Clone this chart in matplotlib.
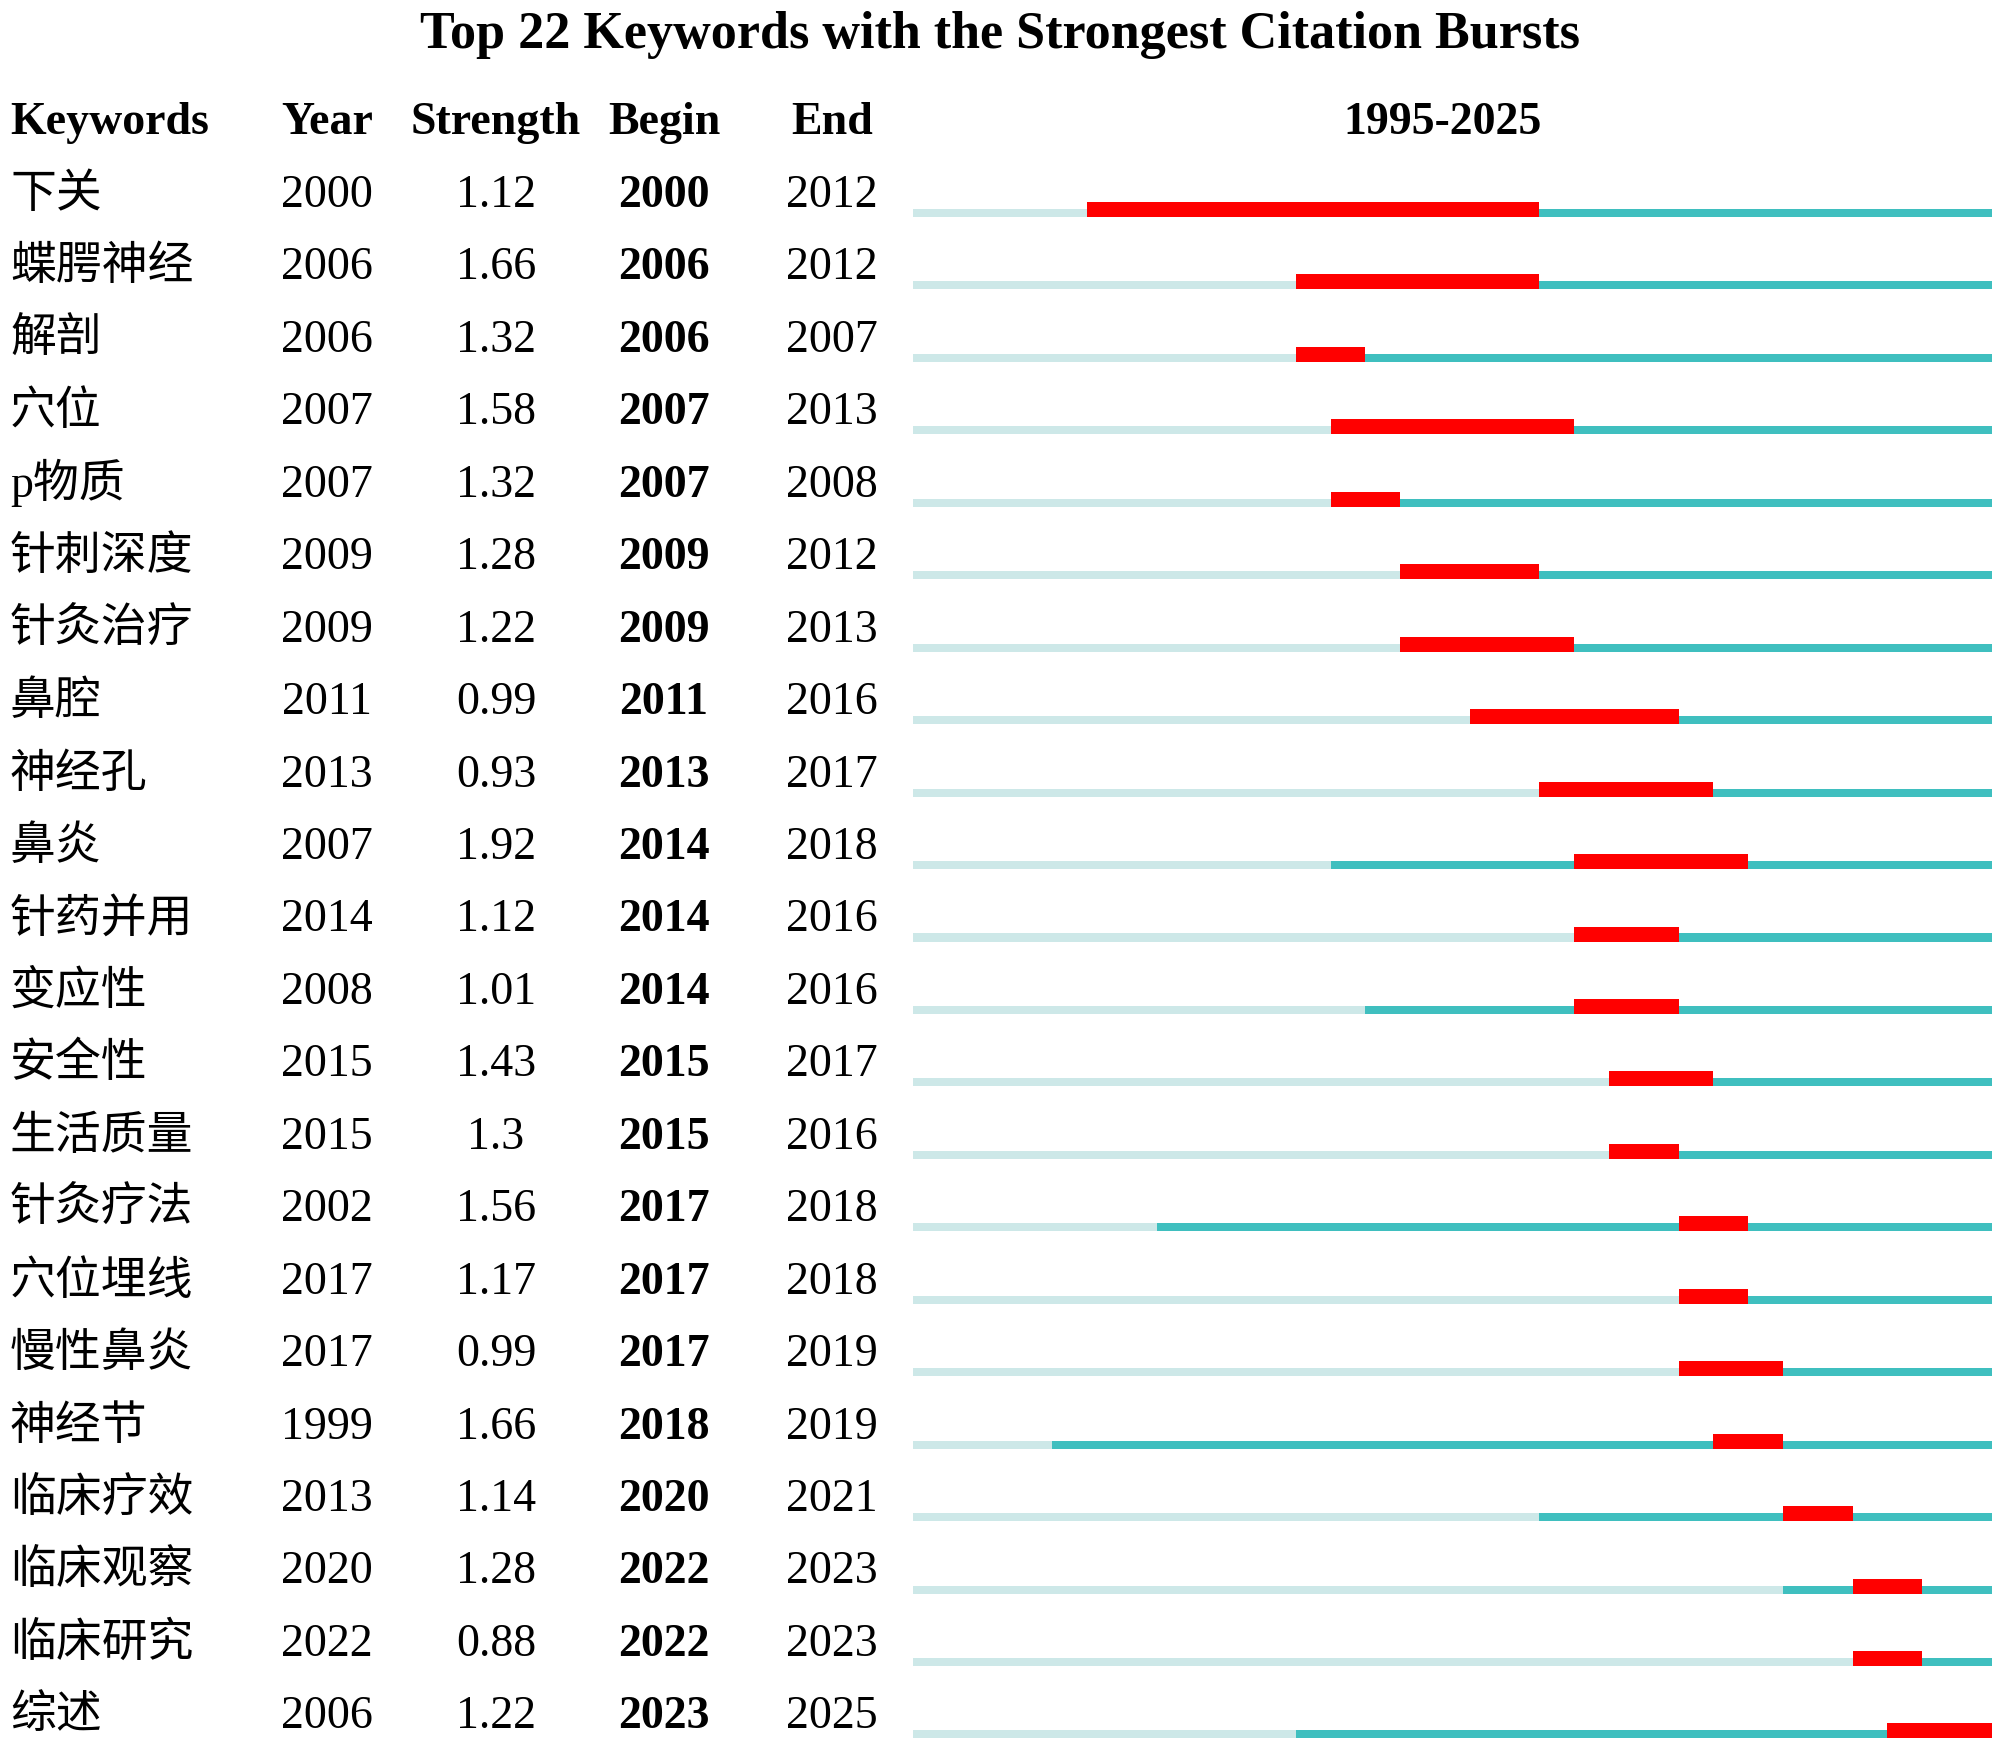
import matplotlib
matplotlib.use('Agg')
import matplotlib.pyplot as plt
import matplotlib.transforms as mtransforms
from matplotlib import rcParams

rcParams['font.family'] = ['Liberation Serif', 'Noto Sans CJK SC']

# data
keywords = ['下关', '蝶腭神经', '解剖', '穴位', 'p物质', '针刺深度', '针灸治疗', '鼻腔',
            '神经孔', '鼻炎', '针药并用', '变应性', '安全性', '生活质量', '针灸疗法',
            '穴位埋线', '慢性鼻炎', '神经节', '临床疗效', '临床观察', '临床研究', '综述']
years = [2000, 2006, 2006, 2007, 2007, 2009, 2009, 2011, 2013, 2007, 2014,
         2008, 2015, 2015, 2002, 2017, 2017, 1999, 2013, 2020, 2022, 2006]
strength = ['1.12', '1.66', '1.32', '1.58', '1.32', '1.28', '1.22', '0.99', '0.93', '1.92', '1.12',
            '1.01', '1.43', '1.3', '1.56', '1.17', '0.99', '1.66', '1.14', '1.28', '0.88', '1.22']
begin = [2000, 2006, 2006, 2007, 2007, 2009, 2009, 2011, 2013, 2014, 2014,
         2014, 2015, 2015, 2017, 2017, 2017, 2018, 2020, 2022, 2022, 2023]
end = [2012, 2012, 2007, 2013, 2008, 2012, 2013, 2016, 2017, 2018, 2016,
       2016, 2017, 2016, 2018, 2018, 2019, 2019, 2021, 2023, 2023, 2025]
start_year, end_year = 1995, 2025

red = '#FF0000'
teal = '#3FBFBF'
light = '#CDE8E8'

fig = plt.figure(figsize=(20, 17.42), dpi=100)
ax = fig.add_axes([0, 0, 1, 1])
x0, px_year = 913, 34.8
ax.set_xlim(start_year - x0 / px_year, start_year + (2000 - x0) / px_year)
ax.set_ylim((1742 - 191) / 72.45, -191 / 72.45)
ax.axis('off')

trans = mtransforms.blended_transform_factory(ax.transAxes, ax.transData)
fs = 33

ax.text(0.5, -1.97, 'Top 22 Keywords with the Strongest Citation Bursts', transform=trans,
        ha='center', va='baseline', fontsize=37.5, fontweight='bold')

headers = ['Keywords', 'Year', 'Strength', 'Begin', 'End']
hx = [0.005, 0.1635, 0.248, 0.332, 0.416]
for i, h in enumerate(headers):
    ax.text(hx[i], -0.79, h, transform=trans, ha='left' if i == 0 else 'center',
            va='baseline', fontsize=fs, fontweight='bold')
ax.text(0.7215, -0.79, f'{start_year}-{end_year}', transform=trans, ha='center',
        va='baseline', fontsize=fs, fontweight='bold')

for r in range(len(keywords)):
    b = r + 0.22
    ax.text(0.005, b, keywords[r], transform=trans, ha='left', va='baseline', fontsize=fs)
    ax.text(0.1635, b, str(years[r]), transform=trans, ha='center', va='baseline', fontsize=fs)
    ax.text(0.248, b, strength[r], transform=trans, ha='center', va='baseline', fontsize=fs)
    ax.text(0.332, b, str(begin[r]), transform=trans, ha='center', va='baseline',
            fontsize=fs, fontweight='bold')
    ax.text(0.416, b, str(end[r]), transform=trans, ha='center', va='baseline', fontsize=fs)

    # one cell per year
    for y in range(start_year, end_year + 1):
        if begin[r] <= y <= end[r]:
            ax.barh(r + 0.152, 1, left=y, height=0.207, align='edge', color=red, linewidth=0)
        elif y >= years[r]:
            ax.barh(r + 0.248, 1, left=y, height=0.111, align='edge', color=teal, linewidth=0)
        else:
            ax.barh(r + 0.248, 1, left=y, height=0.111, align='edge', color=light, linewidth=0)

fig.savefig('out.png', dpi=100)
